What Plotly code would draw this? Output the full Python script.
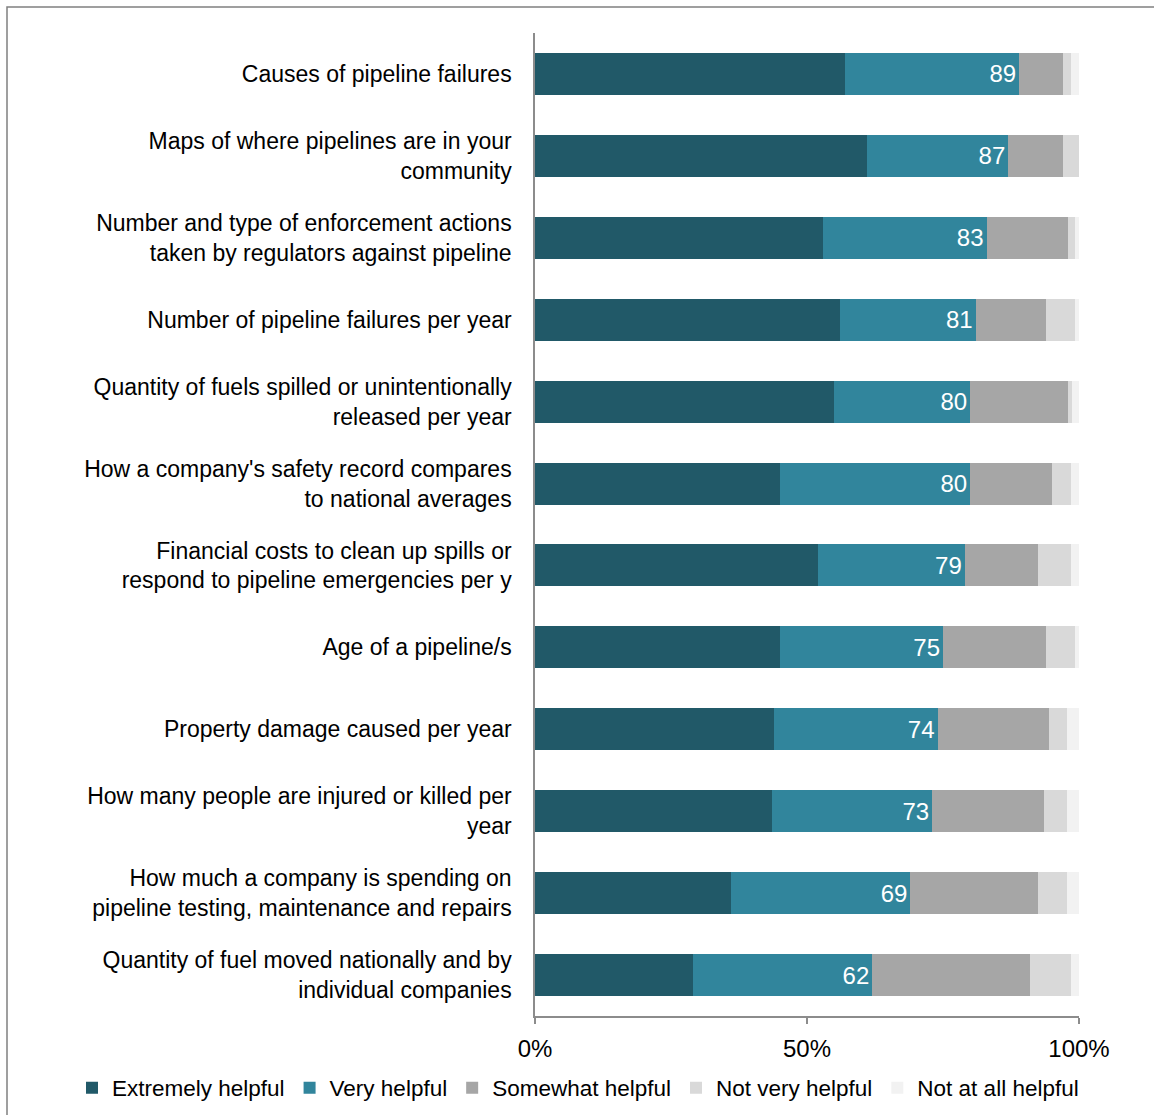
import plotly.graph_objects as go

# Survey items (top to bottom)
categories = [
    "Causes of pipeline failures",
    "Maps of where pipelines are in your<br>community",
    "Number and type of enforcement actions<br>taken by regulators against pipeline",
    "Number of pipeline failures per year",
    "Quantity of fuels spilled or unintentionally<br>released per year",
    "How a company's safety record compares<br>to national averages",
    "Financial costs to clean up spills or<br>respond to pipeline emergencies per y",
    "Age of a pipeline/s",
    "Property damage caused per year",
    "How many people are injured or killed per<br>year",
    "How much a company is spending on<br>pipeline testing, maintenance and repairs",
    "Quantity of fuel moved nationally and by<br>individual companies",
]

# Share of respondents (%) per response level
extremely_helpful = [57, 61, 53, 56, 55, 45, 52, 45, 44, 43.5, 36, 29]
very_helpful = [32, 26, 30, 25, 25, 35, 27, 30, 30, 29.5, 33, 33]
somewhat_helpful = [8, 10, 15, 13, 18, 15, 13.5, 19, 20.5, 20.5, 23.5, 29]
not_very_helpful = [1.5, 3, 1.3, 5.3, 0.7, 3.5, 6, 5.3, 3.3, 4.3, 5.3, 7.5]
not_at_all_helpful = [1.5, 0, 0.7, 0.7, 1.3, 1.5, 1.5, 0.7, 2.2, 2.2, 2.2, 1.5]

series_names = ["Extremely helpful", "Very helpful", "Somewhat helpful",
                "Not very helpful", "Not at all helpful"]
series_values = [extremely_helpful, very_helpful, somewhat_helpful,
                 not_very_helpful, not_at_all_helpful]
series_colors = ["#215968", "#31859C", "#A6A6A6", "#D9D9D9", "#F2F2F2"]

x_tick_vals = [0, 50, 100]
x_tick_text = ["0%", "50%", "100%"]

# Top-two-box total shown on each bar
top_two = [round(a + b) for a, b in zip(extremely_helpful, very_helpful)]

FONT = "Liberation Sans, Arial, sans-serif"

fig = go.Figure()
for name, vals, color in zip(series_names, series_values, series_colors):
    kwargs = {}
    if name == "Very helpful":
        kwargs = dict(
            text=[str(v) for v in top_two],
            textposition="inside",
            insidetextanchor="end",
            textangle=0,
            constraintext="none",
            textfont=dict(color="white", size=24, family=FONT),
        )
    fig.add_trace(go.Bar(
        y=categories, x=vals, name=name, orientation="h",
        marker=dict(color=color, line=dict(width=0)),
        hoverinfo="skip", **kwargs,
    ))

W, H = 1154, 1115
ML, MR, MT, MB = 535, 75, 33, 99
pw, ph = W - ML - MR, H - MT - MB

def px_to_paper_x(px):
    return (px - ML) / pw

def px_to_paper_y(py):
    return 1 - (py - MT) / ph

fig.update_layout(
    width=W, height=H,
    margin=dict(l=ML, r=MR, t=MT, b=MB, autoexpand=False),
    barmode="stack",
    bargap=0.487,
    plot_bgcolor="white",
    paper_bgcolor="white",
    font=dict(family=FONT, size=23, color="#000000"),
    showlegend=True,
    legend=dict(
        orientation="h",
        x=px_to_paper_x(72), xanchor="left",
        y=px_to_paper_y(1088), yanchor="middle",
        font=dict(size=22.5, family=FONT, color="#000000"),
        itemwidth=30,
        traceorder="normal",
        bgcolor="rgba(0,0,0,0)",
    ),
    xaxis=dict(
        range=[0, 100],
        tickvals=x_tick_vals, ticktext=x_tick_text,
        showgrid=False, zeroline=False,
        showline=True, linecolor="#8C8C8C", linewidth=1.5,
        ticks="outside", ticklen=6, tickcolor="#8C8C8C", tickwidth=1.5,
        ticklabelstandoff=4,
        tickfont=dict(size=24, family=FONT, color="#000000"),
        fixedrange=True,
    ),
    yaxis=dict(
        categoryorder="array", categoryarray=categories,
        autorange="reversed",
        showgrid=False, zeroline=False,
        showline=True, linecolor="#8C8C8C", linewidth=1.5,
        ticks="", ticklabelstandoff=17,
        tickfont=dict(size=23, family=FONT, color="#000000"),
        fixedrange=True,
    ),
    shapes=[dict(
        type="rect", xref="paper", yref="paper",
        x0=px_to_paper_x(7), x1=px_to_paper_x(W + 20),
        y0=px_to_paper_y(H + 20), y1=px_to_paper_y(7),
        line=dict(color="#808080", width=1.5),
        fillcolor="rgba(0,0,0,0)", layer="below",
    )],
)

fig.write_html("out.html", config={"displayModeBar": False})
